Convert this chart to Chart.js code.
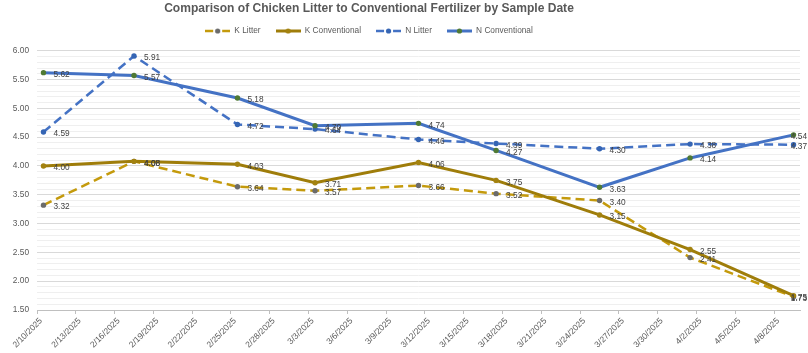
<!DOCTYPE html>
<html>
<head>
<meta charset="utf-8">
<script src="https://cdn.jsdelivr.net/npm/chart.js@4/dist/chart.umd.min.js"></script>
<style>
html,body{margin:0;padding:0;background:#ffffff;}
#c{display:block;}
</style>
</head>
<body>
<canvas id="c" width="808" height="353"></canvas>
<script>
// ---------- data ----------
const chartTitle = 'Comparison of Chicken Litter to Conventional Fertilizer by Sample Date';
const seriesNames = ['K Litter', 'K Conventional', 'N Litter', 'N Conventional'];
const sampleDates = ['2025-02-10','2025-02-17','2025-02-25','2025-03-03','2025-03-11','2025-03-17','2025-03-25','2025-04-01','2025-04-09'];
const kLitter       = [3.32, 4.08, 3.64, 3.57, 3.66, 3.52, 3.40, 2.41, 1.73];
const kConventional = [4.00, 4.08, 4.03, 3.71, 4.06, 3.75, 3.15, 2.55, 1.75];
const nLitter       = [4.59, 5.91, 4.72, 4.64, 4.46, 4.39, 4.30, 4.38, 4.37];
const nConventional = [5.62, 5.57, 5.18, 4.70, 4.74, 4.27, 3.63, 4.14, 4.54];
const xTickLabels = ['2/10/2025','2/13/2025','2/16/2025','2/19/2025','2/22/2025','2/25/2025','2/28/2025',
  '3/3/2025','3/6/2025','3/9/2025','3/12/2025','3/15/2025','3/18/2025','3/21/2025','3/24/2025',
  '3/27/2025','3/30/2025','4/2/2025','4/5/2025','4/8/2025'];
const xTickStepDays = 3;
const yMin = 1.5, yMax = 6.0, yMajorStep = 0.5, yMinorStep = 0.1;

// ---------- styles ----------
const FONT = "'Liberation Sans', Arial, sans-serif";
const TITLE_FONT = "'Liberation Sans Narrow', 'Liberation Sans', Arial, sans-serif";
const styles = [
  {color:'#C49A0C', marker:'#6B6B6B', dash:[9,5], width:2.5},
  {color:'#9F7D0A', marker:'#A3820F', dash:[],    width:3},
  {color:'#4472C4', marker:'#3565B4', dash:[9,5], width:2.5},
  {color:'#4472C4', marker:'#4F7A34', dash:[],    width:3}
];

// fit the title to the reference width
const titleSize = (() => {
  const g = document.createElement('canvas').getContext('2d');
  g.font = `bold 100px ${TITLE_FONT}`;
  const w = g.measureText(chartTitle).width;
  return Math.min(15, 100 * 410 / w);
})();

const dayIndex = d => (Date.parse(d) - Date.parse(sampleDates[0])) / 86400000;
const xs = sampleDates.map(dayIndex);
const toPts = vals => vals.map((v, i) => ({x: xs[i], y: v}));
const allSeries = [kLitter, kConventional, nLitter, nConventional];

function makeIcon(st) {
  const c = document.createElement('canvas');
  c.width = 25; c.height = 8;
  const g = c.getContext('2d');
  g.strokeStyle = st.color;
  g.lineWidth = st.width;
  g.beginPath();
  if (st.dash.length) {
    g.moveTo(0, 4); g.lineTo(8, 4);
    g.moveTo(17, 4); g.lineTo(25, 4);
  } else {
    g.moveTo(0, 4); g.lineTo(25, 4);
  }
  g.stroke();
  g.fillStyle = st.marker;
  g.beginPath(); g.arc(12.5, 4, 2.6, 0, Math.PI * 2); g.fill();
  return c;
}
const icons = styles.map(makeIcon);

const datasets = allSeries.map((vals, i) => ({
  label: seriesNames[i],
  data: toPts(vals),
  borderColor: styles[i].color,
  backgroundColor: styles[i].color,
  borderWidth: styles[i].width,
  borderDash: styles[i].dash,
  pointRadius: 2.7,
  pointHoverRadius: 2.7,
  pointBackgroundColor: styles[i].marker,
  pointBorderColor: styles[i].marker,
  pointBorderWidth: 0,
  tension: 0,
  fill: false,
  order: allSeries.length - i
}));

const isMajor = v => Math.abs(v / yMajorStep - Math.round(v / yMajorStep)) < 1e-6;

const valueLabels = {
  id: 'valueLabels',
  afterDatasetsDraw(chart) {
    const ctx = chart.ctx;
    ctx.save();
    ctx.font = `8.3px ${FONT}`;
    ctx.fillStyle = '#404040';
    ctx.textBaseline = 'middle';
    ctx.textAlign = 'left';
    chart.data.datasets.forEach((ds, i) => {
      const meta = chart.getDatasetMeta(i);
      meta.data.forEach((el, j) => {
        const txt = ds.data[j].y.toFixed(2);
        const w = ctx.measureText(txt).width;
        let x = el.x + 10;
        if (x + w > chart.width - 1) x = chart.width - 1 - w;
        ctx.fillText(txt, x, el.y + 2);
      });
    });
    ctx.restore();
  }
};

const headerShift = {
  id: 'headerShift',
  afterLayout(chart) {
    const dx = -31;
    const t = chart.titleBlock;
    if (t) {
      const h = t.height;
      t.left += dx; t.right += dx;
      t.top = 9 - h / 2; t.bottom = t.top + h;
    }
    const l = chart.legend;
    if (l) {
      const h = l.height;
      l.left += dx; l.right += dx;
      l.top = 31 - (15 + 8.3 / 2); l.bottom = l.top + h;
    }
  }
};

new Chart(document.getElementById('c'), {
  type: 'line',
  data: {datasets},
  plugins: [valueLabels, headerShift],
  options: {
    responsive: false,
    animation: false,
    devicePixelRatio: 1,
    layout: {padding: {top: 3, left: 0, right: 8, bottom: 0}},
    plugins: {
      tooltip: {enabled: false},
      title: {
        display: true,
        text: chartTitle,
        color: '#595959',
        font: {family: TITLE_FONT, size: titleSize, weight: 'bold', lineHeight: 1.2},
        padding: 0
      },
      legend: {
        display: true,
        position: 'top',
        labels: {
          usePointStyle: true,
          pointStyleWidth: 25,
          boxHeight: 8,
          padding: 15,
          color: '#595959',
          font: {family: FONT, size: 8.3},
          generateLabels(chart) {
            return chart.data.datasets.map((ds, i) => ({
              text: ds.label,
              pointStyle: icons[i],
              datasetIndex: i,
              hidden: false,
              fontColor: '#595959',
              lineWidth: 0,
              strokeStyle: 'rgba(0,0,0,0)',
              fillStyle: 'rgba(0,0,0,0)'
            }));
          }
        }
      }
    },
    scales: {
      x: {
        type: 'linear',
        min: -0.5,
        max: 58.5,
        afterBuildTicks(scale) {
          scale.ticks = xTickLabels.map((_, k) => ({value: -0.5 + xTickStepDays * k}));
        },
        afterFit(scale) { scale.height = 43; },
        ticks: {
          autoSkip: false,
          minRotation: 45,
          maxRotation: 45,
          padding: 2,
          labelOffset: 4,
          color: '#595959',
          font: {family: FONT, size: 8.5},
          callback: (v, idx) => xTickLabels[idx]
        },
        grid: {drawOnChartArea: false, drawTicks: true, tickLength: 4, color: '#BFBFBF'},
        border: {display: true, color: '#BFBFBF', width: 1}
      },
      y: {
        type: 'linear',
        min: yMin,
        max: yMax,
        afterBuildTicks(scale) {
          const n = Math.round((yMax - yMin) / yMinorStep);
          const t = [];
          for (let k = 0; k <= n; k++) t.push({value: Math.round((yMin + k * yMinorStep) * 10) / 10});
          scale.ticks = t;
        },
        afterFit(scale) { scale.width = 37; },
        ticks: {
          autoSkip: false,
          padding: 8,
          color: '#595959',
          font: {family: FONT, size: 8.3},
          callback: v => isMajor(v) ? v.toFixed(2) : ''
        },
        grid: {
          drawTicks: false,
          lineWidth: 1,
          color: ctx => (ctx.tick && isMajor(ctx.tick.value)) ? '#D9D9D9' : '#EFEFEF'
        },
        border: {display: false}
      }
    }
  }
});
</script>
</body>
</html>
